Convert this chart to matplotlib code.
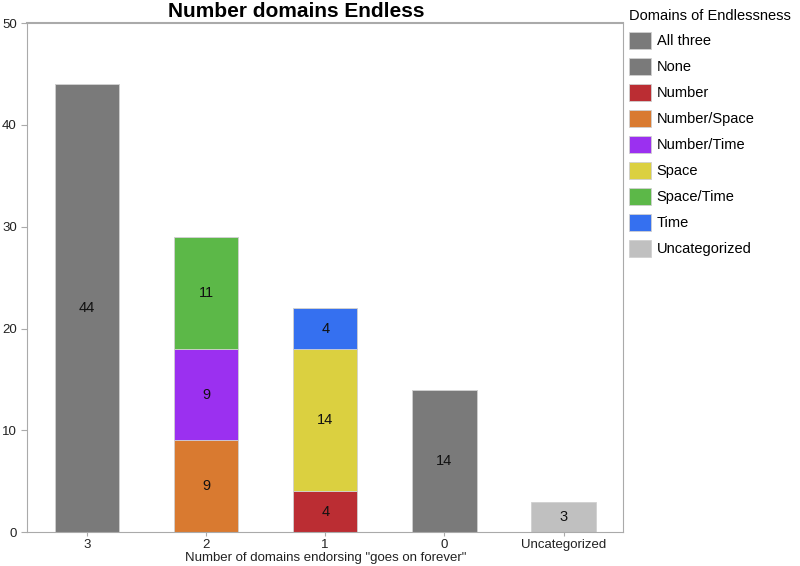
import numpy as np
import matplotlib.pyplot as plt
from matplotlib.patches import Patch

plt.rcParams['font.family'] = ['Liberation Sans', 'DejaVu Sans']

categories = ["3", "2", "1", "0", "Uncategorized"]
series_names = ["All three", "None", "Number", "Number/Space", "Number/Time",
                "Space", "Space/Time", "Time", "Uncategorized"]
# values per category, stacking order bottom to top
all_three = [44, 0, 0, 0, 0]
none = [0, 0, 0, 14, 0]
number = [0, 0, 4, 0, 0]
number_space = [0, 9, 0, 0, 0]
number_time = [0, 9, 0, 0, 0]
space = [0, 0, 14, 0, 0]
space_time = [0, 11, 0, 0, 0]
time = [0, 0, 4, 0, 0]
uncategorized = [0, 0, 0, 0, 3]

colors = ["#7a7a7a", "#7a7a7a", "#bb2d33", "#d97a30", "#9b30f0",
          "#dbd040", "#5cb848", "#3570f0", "#c0c0c0"]
data = [all_three, none, number, number_space, number_time,
        space, space_time, time, uncategorized]

fig = plt.figure(figsize=(8, 5.66), dpi=100)
ax = fig.add_axes([0.034, 0.060, 0.745, 0.899])

x = np.arange(len(categories))
bottom = np.zeros(len(categories))
for vals, col in zip(data, colors):
    vals = np.array(vals, dtype=float)
    ax.bar(x, vals, 0.54, bottom=bottom, color=col, edgecolor="#d0d0d0", linewidth=0.6)
    for xi, v, b in zip(x, vals, bottom):
        if v > 0:
            ax.text(xi, b + v / 2, str(int(v)), ha="center", va="center", fontsize=10.5, color="#111111")
    bottom += vals

ax.set_xlim(-0.5, 4.5)
ax.set_ylim(0, 50)
ax.set_yticks([0, 10, 20, 30, 40, 50])
ax.set_xticks(x)
ax.set_xticklabels(categories)
for s in ax.spines.values():
    s.set_color("#aaaaaa")
ax.spines["top"].set_linewidth(1.5)
ax.tick_params(axis="both", colors="#aaaaaa", labelcolor="#222222", labelsize=9.5, length=4)
ax.tick_params(axis="x", length=3, pad=2)
ax.set_xlabel('Number of domains endorsing "goes on forever"', fontsize=9.5, color="#222222", labelpad=1)
fig.text(0.37, 0.980, "Number domains Endless", ha="center", va="center",
         fontsize=15, fontweight="bold")

handles = [Patch(facecolor=c, edgecolor="#d0d0d0", linewidth=0.6) for c in colors]
leg = fig.legend(handles, series_names, loc="upper left", bbox_to_anchor=(0.779, 0.995),
                 frameon=False, fontsize=10.5, title="Domains of Endlessness", title_fontsize=10.5,
                 handlelength=1.5, handleheight=1.35, labelspacing=0.66, handletextpad=0.4,
                 borderaxespad=0)
leg._legend_box.align = "left"

fig.savefig("out.png", dpi=100)
